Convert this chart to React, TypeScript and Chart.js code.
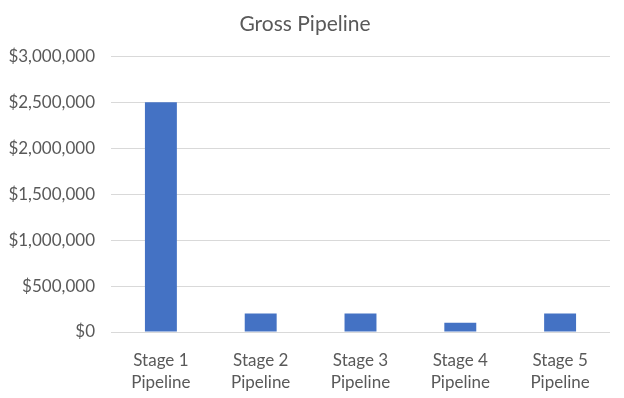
import React, { useEffect, useRef } from "react";
import { Chart, registerables } from "chart.js";

Chart.register(...registerables);

const categories: string[][] = [
  ["Stage 1", "Pipeline"],
  ["Stage 2", "Pipeline"],
  ["Stage 3", "Pipeline"],
  ["Stage 4", "Pipeline"],
  ["Stage 5", "Pipeline"],
];
const grossPipeline: number[] = [2500000, 200000, 200000, 100000, 200000];
const yMax = 3000000;
const yStep = 500000;

const FONT = "Lato, 'Open Sans', sans-serif";
const TEXT = "#595959";

export default function App() {
  const ref = useRef<HTMLCanvasElement | null>(null);
  useEffect(() => {
    document.body.style.margin = "0";
    const ctx = ref.current!;
    const chart = new Chart(ctx, {
      type: "bar",
      data: {
        labels: categories,
        datasets: [
          {
            label: "Gross Pipeline",
            data: grossPipeline,
            backgroundColor: "#4472C4",
            borderWidth: 0,
            barPercentage: 0.32,
            categoryPercentage: 1,
          },
        ],
      },
      options: {
        animation: false,
        responsive: false,
        maintainAspectRatio: false,
        layout: { padding: { left: 0, right: 14, top: 8, bottom: 0 } },
        plugins: {
          legend: { display: false },
          tooltip: { enabled: false },
          title: {
            display: true,
            text: "Gross Pipeline",
            color: TEXT,
            font: { family: FONT, size: 21, weight: "normal" },
            padding: { top: 4, bottom: 19 },
          },
        },
        scales: {
          x: {
            grid: { display: false },
            border: { display: false },
            ticks: {
              color: TEXT,
              font: { family: FONT, size: 17, lineHeight: 1.3 },
              padding: 9,
              maxRotation: 0,
            },
            afterFit: (scale: any) => {
              scale.height = 66;
            },
          },
          y: {
            min: 0,
            max: yMax,
            grid: { color: "#D9D9D9", lineWidth: 1, drawTicks: false },
            border: { display: false },
            ticks: {
              stepSize: yStep,
              color: TEXT,
              font: { family: FONT, size: 17 },
              padding: 16,
              callback: (v: any) => "$" + Number(v).toLocaleString("en-US"),
            },
            afterFit: (scale: any) => {
              scale.width = 111;
            },
          },
        },
      },
    });
    return () => chart.destroy();
  }, []);
  return <canvas ref={ref} width={624} height={398} style={{ display: "block" }} />;
}
